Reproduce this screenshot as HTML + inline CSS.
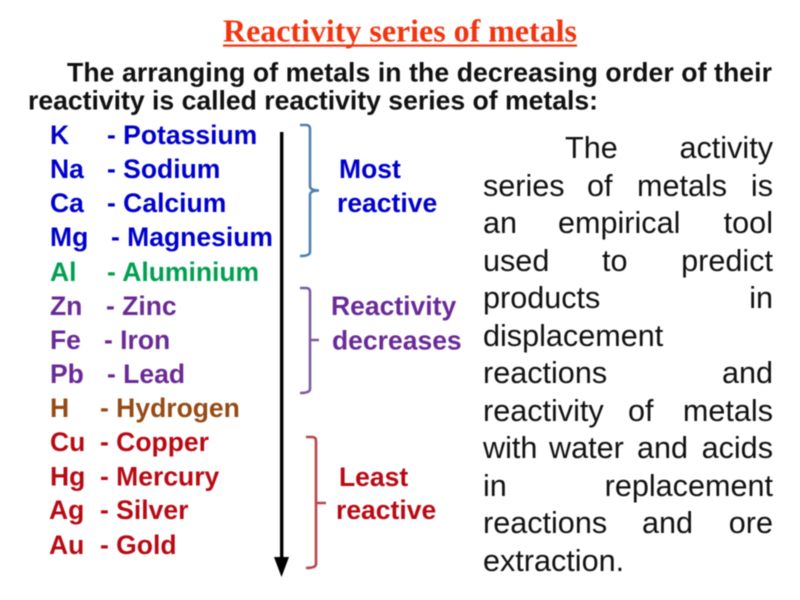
<!DOCTYPE html>
<html><head><meta charset="utf-8"><style>
html,body{margin:0;padding:0;background:#fff;width:800px;height:600px;overflow:hidden}
svg{position:absolute;left:0;top:0;filter:blur(.4px)}
.s{font:bold 26.500px "Liberation Sans",sans-serif}
.t{font:bold 26.600px "Liberation Sans",sans-serif;fill:#111}
.p{font:30.600px "Liberation Sans",sans-serif;fill:#111}
.b{fill:#0000cc}.g{fill:#00a050}.v{fill:#6a2a96}.h{fill:#964a14}.r{fill:#b80a14}
</style></head><body>
<svg width="800" height="600" viewBox="0 0 800 600" xmlns="http://www.w3.org/2000/svg">
<text x="223" y="41.500" textLength="354" style="font:bold 32px 'Liberation Serif',serif;fill:#f03510">Reactivity series of metals</text>
<rect x="223" y="44.500" width="354" height="2.200" fill="#f03510"/>
<text class="t" x="67" y="81.500" textLength="705">The arranging of metals in the decreasing order of their</text>
<text class="t" x="28" y="109.500" textLength="570">reactivity is called reactivity series of metals:</text>

<g class="s b">
<text x="50" y="144">K</text><text x="107" y="144">- Potassium</text>
<text x="50" y="178">Na</text><text x="107" y="178">- Sodium</text>
<text x="50" y="212">Ca</text><text x="107" y="212">- Calcium</text>
<text x="50" y="246">Mg</text><text x="111" y="246">- Magnesium</text>
</g>
<g class="s g"><text x="50" y="281">Al</text><text x="107" y="281">- Aluminium</text></g>
<g class="s v">
<text x="50" y="315">Zn</text><text x="106" y="315">- Zinc</text>
<text x="50" y="349">Fe</text><text x="104" y="349">- Iron</text>
<text x="50" y="383">Pb</text><text x="107" y="383">- Lead</text>
</g>
<g class="s h"><text x="50" y="417">H</text><text x="100" y="417">- Hydrogen</text></g>
<g class="s r">
<text x="50" y="451">Cu</text><text x="100" y="451">- Copper</text>
<text x="50" y="485.500">Hg</text><text x="100" y="485.500">- Mercury</text>
<text x="49" y="519">Ag</text><text x="100" y="519">- Silver</text>
<text x="49" y="554">Au</text><text x="100" y="554">- Gold</text>
</g>

<rect x="280" y="132" width="3.400" height="430" fill="#000"/>
<polygon points="274,557 289,557 281.500,577" fill="#000"/>

<path d="M300,125 H306 Q310,125 310,129 V186 Q310,190.500 319,190.500 M319,190.500 Q310,190.500 310,195 V252 Q310,256 300,256" fill="none" stroke="#4f80b0" stroke-width="2.600"/>
<path d="M300,288 H306 Q310,288 310,292 V340 H319 M310,340 V389 Q310,393 300,393" fill="none" stroke="#7a5ca0" stroke-width="2.600"/>
<path d="M306,437 H312 Q316,437 316,441 V503 H326 M316,503 V564 Q316,568 306,568" fill="none" stroke="#b8444a" stroke-width="2.600"/>

<g class="s b">
<text x="339" y="178">Most</text>
<text x="337" y="212">reactive</text>
</g>
<g class="s v">
<text x="331" y="315">Reactivity</text>
<text x="332" y="349.500">decreases</text>
</g>
<g class="s r">
<text x="339" y="486">Least</text>
<text x="336" y="519">reactive</text>
</g>

<g class="p">
<text x="565" y="158">The</text><text x="773" y="158" text-anchor="end">activity</text>
<text x="483" y="196">series</text><text x="587" y="196">of</text><text x="637" y="196">metals</text><text x="773" y="196" text-anchor="end">is</text>
<text x="483" y="233">an</text><text x="558" y="233">empirical</text><text x="773" y="233" text-anchor="end">tool</text>
<text x="483" y="271">used</text><text x="602" y="271">to</text><text x="773" y="271" text-anchor="end">predict</text>
<text x="483" y="308">products</text><text x="773" y="308" text-anchor="end">in</text>
<text x="483" y="346">displacement</text>
<text x="483" y="383">reactions</text><text x="773" y="383" text-anchor="end">and</text>
<text x="483" y="421">reactivity</text><text x="628" y="421">of</text><text x="773" y="421" text-anchor="end">metals</text>
<text x="483" y="458">with</text><text x="549" y="458">water</text><text x="637" y="458">and</text><text x="773" y="458" text-anchor="end">acids</text>
<text x="483" y="496">in</text><text x="773" y="496" text-anchor="end">replacement</text>
<text x="483" y="533">reactions</text><text x="642" y="533">and</text><text x="773" y="533" text-anchor="end">ore</text>
<text x="483" y="571">extraction.</text>
</g>
</svg>
</body></html>
